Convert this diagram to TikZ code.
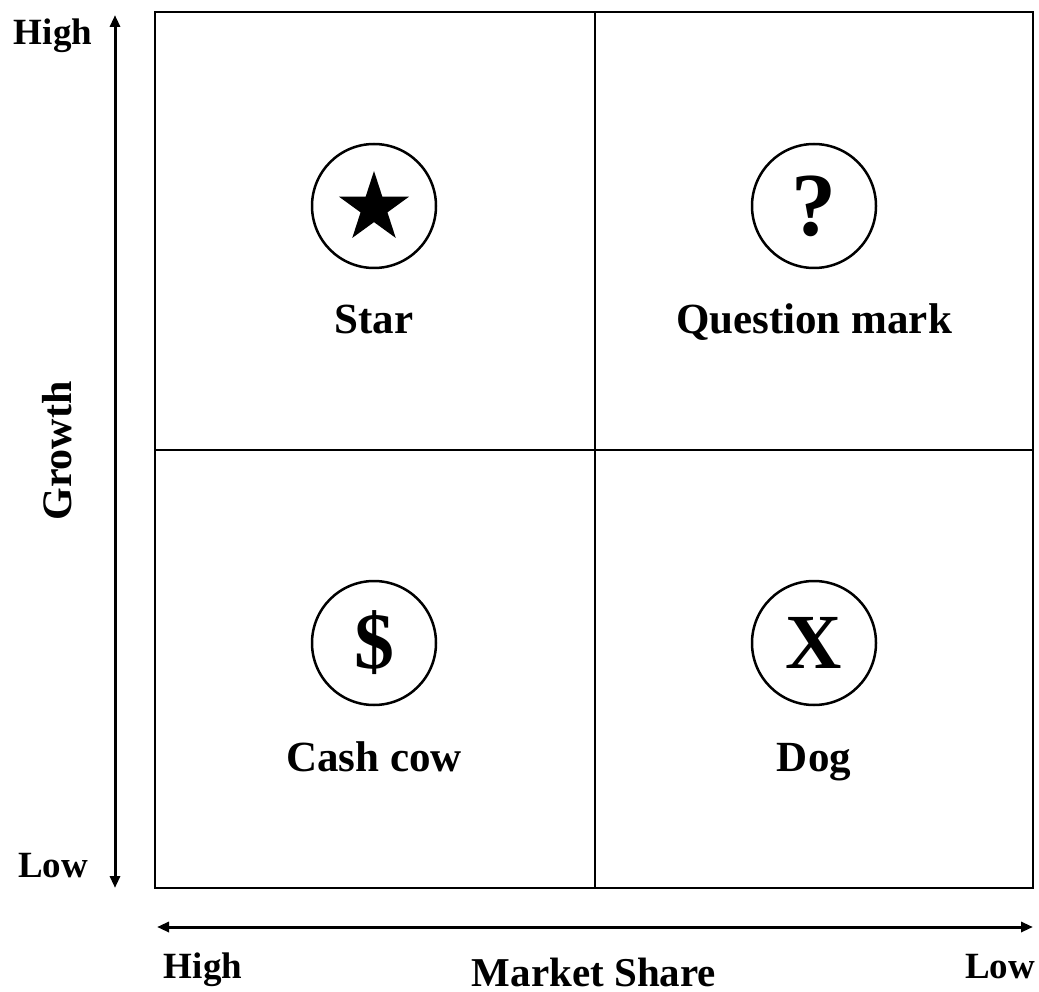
\documentclass[tikz,border=0pt]{standalone}
\usepackage{fontspec}
\setmainfont{Liberation Serif}
\usetikzlibrary{arrows.meta,shapes.geometric}
\begin{document}
\begin{tikzpicture}[x=1pt,y=-1pt,
  frame/.style={line width=2.5pt},
  axis/.style={line width=3pt,
    {Triangle[length=12pt,width=10pt]}-{Triangle[length=12pt,width=10pt]}},
  badge/.style={circle,draw,line width=2.5pt,minimum size=124pt,inner sep=0pt},
  quadname/.style={anchor=base,inner sep=0pt,font=\fontsize{43}{50}\selectfont\bfseries},
  axisname/.style={anchor=base,inner sep=0pt,font=\fontsize{37}{44}\selectfont\bfseries},
  glyph/.style={font=\fontsize{#1}{#1}\selectfont\bfseries}
]
\useasboundingbox (0,0) rectangle (1039,992);

% matrix frame and quadrant dividers
\coordinate (tl) at (155,12);
\coordinate (br) at (1033,888);
\coordinate (mt) at (595,12);
\coordinate (mb) at (595,888);
\coordinate (ml) at (155,450);
\coordinate (mr) at (1033,450);
\draw[frame] (tl) rectangle (br);
\draw[frame] (mt) -- (mb);
\draw[frame] (ml) -- (mr);

% growth axis
\coordinate (gtop) at (115,15);
\coordinate (gbot) at (115,888);
\draw[axis] (gbot) -- (gtop);
\node[axisname] (ghigh) at (53,45) {High};
\node[axisname] (glow) at (53,877) {Low};
\node[font=\fontsize{42}{50}\selectfont\bfseries,rotate=90,inner sep=0pt] (growth) at (57,451) {Growth};

% market share axis
\coordinate (mleft) at (157,927);
\coordinate (mright) at (1033,927);
\draw[axis] (mleft) -- (mright);
\node[axisname] (mhigh) at (203,978) {High};
\node[axisname] (mlow) at (1000,978) {Low};
\node[quadname,font=\fontsize{41}{48}\selectfont\bfseries] (market) at (594,986) {Market Share};

% quadrant badges
\node[badge] (cstar) at (374,206) {};
\node[star,star points=5,star point ratio=2.618,fill=black,inner sep=0pt,
  minimum size=74pt] (starglyph) at (374,208) {};
\node[badge,glyph=90] (cquest) at (814,206) {\raisebox{-3pt}{?}};
\node[badge,glyph=80] (ccash) at (374,643) {\$};
\node[badge,glyph=78] (cdog) at (814,643) {X};

% quadrant names
\node[quadname] (nstar) at (374,334) {Star};
\node[quadname] (nquest) at (814,334) {Question mark};
\node[quadname] (ncash) at (374,771) {Cash cow};
\node[quadname] (ndog) at (814,771) {Dog};
\end{tikzpicture}
\end{document}
